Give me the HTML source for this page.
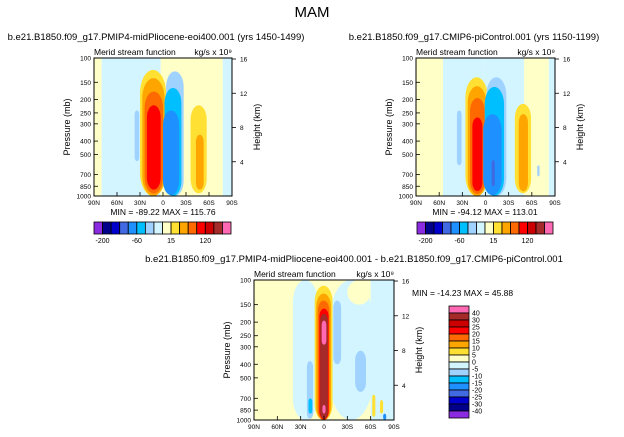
<!DOCTYPE html>
<html><head><meta charset="utf-8">
<style>
body{margin:0;background:#fff;}
svg{display:block;font-family:"Liberation Sans",sans-serif;}
</style></head>
<body>
<svg id="fig" width="624" height="437" viewBox="0 0 624 437" xmlns="http://www.w3.org/2000/svg">
<text x="312" y="17" font-size="15" text-anchor="middle">MAM</text>
</svg>
<script>
const C={LY:'#ffffc8',LC:'#d2f5ff',LB:'#a0d2ff',DS:'#00bfff',DB:'#1e90ff',RB:'#4169e1',BL:'#0000cd',NV:'#00008b',PU:'#8a2be2',GO:'#ffe033',OR:'#ffa500',DO:'#ff6a00',RD:'#ff0000',DR:'#cc0000',BR:'#a52a2a',PK:'#ff69b4'};
const barColors=[C.PU,C.NV,C.BL,C.RB,C.DB,C.DS,C.LB,C.LC,C.LY,C.GO,C.OR,C.DO,C.RD,C.DR,C.BR,C.PK];
const latTicks=[90,60,30,0,-30,-60,-90];
const latLabels=['90N','60N','30N','0','30S','60S','90S'];
const presTicks=[100,150,200,250,300,400,500,700,850,1000];
const kmTicks=[4,8,12,16];
const topBarLabels=['-200','-60','15','120'];
const diffBarLabels=['40','30','25','20','15','10','5','0','-5','-10','-15','-20','-25','-30','-40'];
// bands: [latFrom, latTo, color]
const bandsA=[[90,80,C.LY],[80,3,C.LC],[3,-78,C.LY],[-78,-90,C.LC]];
const bandsB=[[90,55,C.LY],[55,3,C.LC],[3,-50,C.LC],[-50,-82,C.LY],[-82,-90,C.LC]];
const bandsD=[[90,-60,C.LY],[-60,-90,C.LC]];
// blobs: [latN, latS, pTop, pBottom, color]
const blobsA=[[40,28,170,1000,C.LC],[37,31,240,560,C.LB],[30,-4,122,1000,C.GO],[27,-2,140,1000,C.OR],[24,0,175,960,C.DO],[21,3,220,900,C.RD],
[-4,-27,125,1000,C.LB],[-2,-24,165,1000,C.DS],[0,-21,240,985,C.DB],[-36,-57,220,955,C.GO],[-43,-53,360,900,C.OR]];
const blobsB=[[37,31,240,600,C.LB],[26,-3,138,1000,C.GO],[23,-1,160,1000,C.OR],[20,1,195,965,C.DO],[17,4,270,920,C.RD],
[-1,-27,138,1000,C.LB],[1,-24,162,1000,C.DS],[3,-21,255,985,C.DB],[-8,-12,550,850,C.RB],[-38,-59,215,955,C.GO],[-43,-55,255,925,C.OR],[-67,-70,600,720,C.LB]];
const blobsD=[[40,8,100,1000,C.LC],[-8,-62,100,1000,C.LC],[-30,-60,100,150,C.LY],
[-12,-22,140,400,C.LB],[-40,-54,320,630,C.LB],[22,14,380,980,C.LB],[20,15,700,900,C.DS],
[12,-11,110,1000,C.GO],[10,-9,125,1000,C.OR],[8,-7,140,1000,C.DO],[6,-6,160,990,C.RD],[5,-5,175,980,C.BR],[3,-3,195,290,C.PK],[2,-2,780,900,C.PK],
[-62,-66,660,950,C.GO],[-72,-76,720,900,C.GO],[-76,-80,900,1000,C.DB]];
const svg=document.getElementById('fig');
const NS='http://www.w3.org/2000/svg';
function mk(tag,attrs,parent){const e=document.createElementNS(NS,tag);for(const k in attrs)e.setAttribute(k,attrs[k]);(parent||svg).appendChild(e);return e;}
function txt(x,y,s,size,anchor,parent,rot){const t=mk('text',{x:x,y:y,'font-size':size,'text-anchor':anchor||'start'},parent);if(rot)t.setAttribute('transform','rotate(-90 '+x+' '+y+')');t.textContent=s;return t;}
function panel(L,T,W,H,bands,blobs,title,tx,name,minmax,mmx){
  const g=mk('g',{});
  
  
  const xs=lat=>L+(90-lat)/180*W;
  const ys=p=>T+Math.log10(p/100)*H;
  bands.forEach(b=>{const r=mk('rect',{x:xs(b[0]),y:T,width:xs(b[1])-xs(b[0]),height:H,fill:b[2]},g);
    });
  blobs.forEach(b=>{const x0=xs(b[0]),x1=xs(b[1]),y0=ys(b[2]),y1=ys(b[3]);const w=x1-x0;
    const r=mk('rect',{x:x0,y:y0,width:w,height:y1-y0,rx:w/2,ry:Math.min(w*0.9,(y1-y0)/2),fill:b[4]},g);
    });
  mk('rect',{x:L,y:T,width:W,height:H,fill:'none',stroke:'#000','stroke-width':1},g);
  latTicks.forEach((l,i)=>{const x=xs(l);mk('line',{x1:x,x2:x,y1:T+H,y2:T+H-4,stroke:'#000','stroke-width':0.8},g);
    const t=txt(x,T+H+9,latLabels[i],6.5,'middle',g);});
  presTicks.forEach(p=>{const y=ys(p);mk('line',{x1:L,x2:L+4,y1:y,y2:y,stroke:'#000','stroke-width':0.8},g);
    const t=txt(L-3,y+2.5,String(p),6.5,'end',g);});
  kmTicks.forEach(k=>{const y=ys(1000*Math.exp(-k/7));mk('line',{x1:L+W,x2:L+W+4,y1:y,y2:y,stroke:'#000','stroke-width':0.8},g);
    const t=txt(L+W+8,y+2.5,String(k),6.5,'start',g);});
  let t=txt(L-24,T+H/2,'Pressure (mb)',9,'middle',g,true);
  t=txt(L+W+28,T+H/2,'Height (km)',9,'middle',g,true);
  t=txt(L,T-3,'Merid stream function',8.5,'start',g);
  t=txt(L+W,T-3,'kg/s x 10\u2079',8.5,'end',g);
  t=txt(tx,T-18,title,9.5,'middle');
  t=txt(mmx[0],mmx[1],minmax,8.5,mmx[2]);
}
panel(94,58,138,138,bandsA,blobsA,'b.e21.B1850.f09_g17.PMIP4-midPliocene-eoi400.001 (yrs 1450-1499)',156,'panel-pliocene','MIN = -89.22   MAX = 115.76',[163,215,'middle']);
panel(416,58,139,138,bandsB,blobsB,'b.e21.B1850.f09_g17.CMIP6-piControl.001 (yrs 1150-1199)',474,'panel-picontrol','MIN = -94.12   MAX = 113.01',[485,215,'middle']);
panel(254,280,140,140,bandsD,blobsD,'b.e21.B1850.f09_g17.PMIP4-midPliocene-eoi400.001 - b.e21.B1850.f09_g17.CMIP6-piControl.001',354,'panel-difference','MIN = -14.23   MAX = 45.88',[412,296,'start']);
function hbar(L,T,W,H,name){
  const g=mk('g',{});
  const bw=W/barColors.length;
  barColors.forEach((c,i)=>{const r=mk('rect',{x:L+i*bw,y:T,width:bw,height:H,fill:c,stroke:'#000','stroke-width':0.8},g);
    });
  topBarLabels.forEach((s,i)=>{const t=txt(L+(1+4*i)*bw,T+H+9,s,7,'middle',g);});
}
hbar(94,222,137,12,'colorbar-pliocene');
hbar(417,222,136,12,'colorbar-picontrol');
(function(){const L=449,T=306,W=20,H=112;const g=mk('g',{});
  
  const n=barColors.length,bh=H/n;
  barColors.slice().reverse().forEach((c,i)=>{const r=mk('rect',{x:L,y:T+i*bh,width:W,height:bh,fill:c,stroke:'#000','stroke-width':0.8},g);
    });
  diffBarLabels.forEach((s,i)=>{const t=txt(L+W+3,T+(i+1)*bh+2.5,s,7,'start',g);});
})();
</script>
</body></html>
